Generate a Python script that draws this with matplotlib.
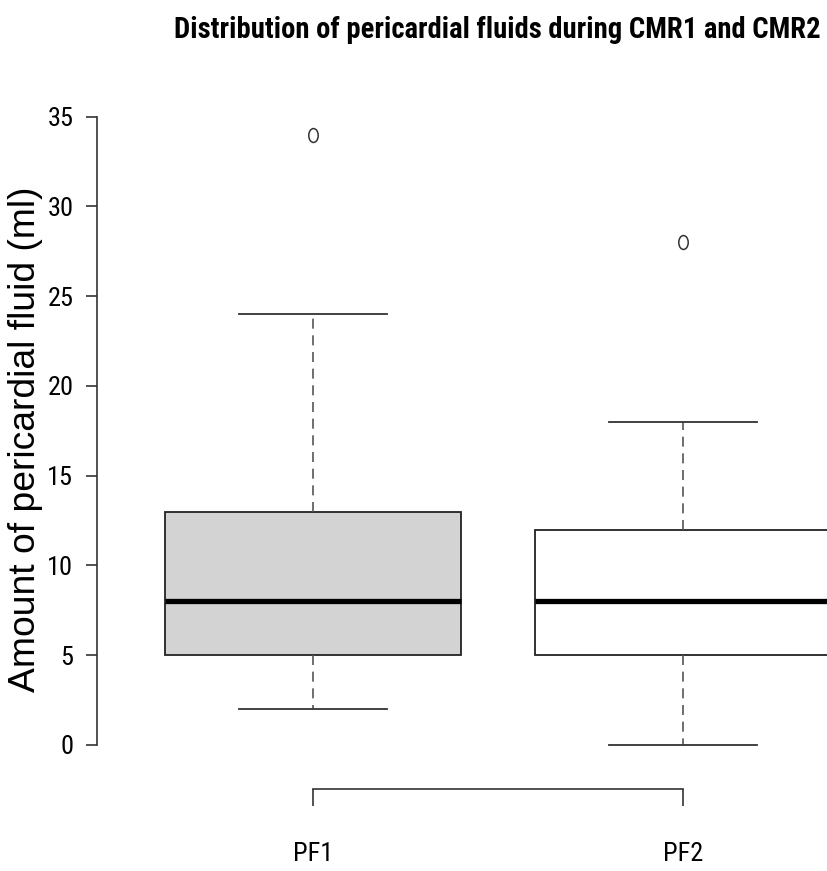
import matplotlib
matplotlib.use("Agg")
import matplotlib.pyplot as plt
from matplotlib import font_manager
from matplotlib.path import Path
from matplotlib.transforms import Affine2D

# summary values
groups = ["PF1", "PF2"]
q1 = [5, 5]
medians = [8, 8]
q3 = [13, 12]
whisk_lo = [2, 0]
whisk_hi = [24, 18]
outliers = [[34], [28]]
fills = ["#d3d3d3", "white"]
yticks = [0, 5, 10, 15, 20, 25, 30, 35]
title = "Distribution of pericardial fluids during CMR1 and CMR2"
ylabel = "Amount of pericardial fluid (ml)"

# look for a narrow font like the R/Helvetica Narrow look of the original
fonts = font_manager.fontManager.ttflist
names = set(f.name for f in fonts)
narrow = dict(family=["DejaVu Sans"])
for n in ["Liberation Sans Narrow", "Roboto Condensed", "Open Sans Condensed",
          "DejaVu Sans Condensed", "Noto Sans Condensed"]:
    if n in names:
        narrow = dict(family=[n, "DejaVu Sans"])
        break
else:
    for f in fonts:
        if f.name in ("DejaVu Sans", "Roboto", "Noto Sans", "Open Sans") and \
                "condensed" in str(f.stretch).lower():
            narrow = dict(family=[f.name, "DejaVu Sans"], stretch="condensed")
            break

fig = plt.figure(figsize=(8.27, 8.71), dpi=100)
ax = fig.add_axes([0, 0, 1, 1])
ax.set_xlim(0.154, 2.389)
ax.set_ylim(-7.02, 41.50)

stats = []
for i in range(len(groups)):
    stats.append(dict(med=medians[i], q1=q1[i], q3=q3[i],
                      whislo=whisk_lo[i], whishi=whisk_hi[i],
                      fliers=outliers[i], label=groups[i]))

ellipse = Affine2D().scale(0.68, 1.0).transform_path(Path.unit_circle())

bp = ax.bxp(stats, positions=[1, 2], widths=0.8, patch_artist=True,
            boxprops=dict(edgecolor="#222222", linewidth=1.3),
            medianprops=dict(color="black", linewidth=3.8, solid_capstyle="butt"),
            whiskerprops=dict(color="#555555", linewidth=1.2, linestyle=(0, (6, 4))),
            capprops=dict(color="#333333", linewidth=1.3),
            capwidths=0.4,
            flierprops=dict(marker=ellipse, markersize=10, markerfacecolor="none",
                            markeredgecolor="#333333", markeredgewidth=1.1))
for patch, c in zip(bp["boxes"], fills):
    patch.set_facecolor(c)

# R style axes
for s in ["top", "right"]:
    ax.spines[s].set_visible(False)
ax.spines["left"].set_position(("data", 0.416))
ax.spines["left"].set_bounds(0, 35)
ax.spines["bottom"].set_position(("data", -2.45))
ax.spines["bottom"].set_bounds(1, 2)
for s in ["left", "bottom"]:
    ax.spines[s].set_color("#333333")
    ax.spines[s].set_linewidth(1.2)

ax.set_yticks(yticks)
ax.set_yticklabels([str(v) for v in yticks], fontsize=19, **narrow)
ax.tick_params(axis="y", direction="out", length=8, width=1.2, color="#333333", pad=9)
ax.set_xticks([1, 2])
ax.set_xticklabels(groups, fontsize=19, **narrow)
ax.tick_params(axis="x", direction="out", length=12, width=1.2, color="#333333", pad=26)

t = ax.text(1.497, 39.83, title, ha="center", va="center",
            fontsize=21, fontweight="bold", **narrow)
yl = ax.text(0.222, 17.0, ylabel, rotation=90, ha="center", va="center",
             fontsize=26, family=["Liberation Sans", "DejaVu Sans"])

# scale title and y label to the widths seen in the original
r = fig.canvas.get_renderer()
w = t.get_window_extent(r).width
t.set_fontsize(21 * 645 / w)
h = yl.get_window_extent(r).height
yl.set_fontsize(26 * 505 / h)

fig.savefig("out.png", dpi=100)
